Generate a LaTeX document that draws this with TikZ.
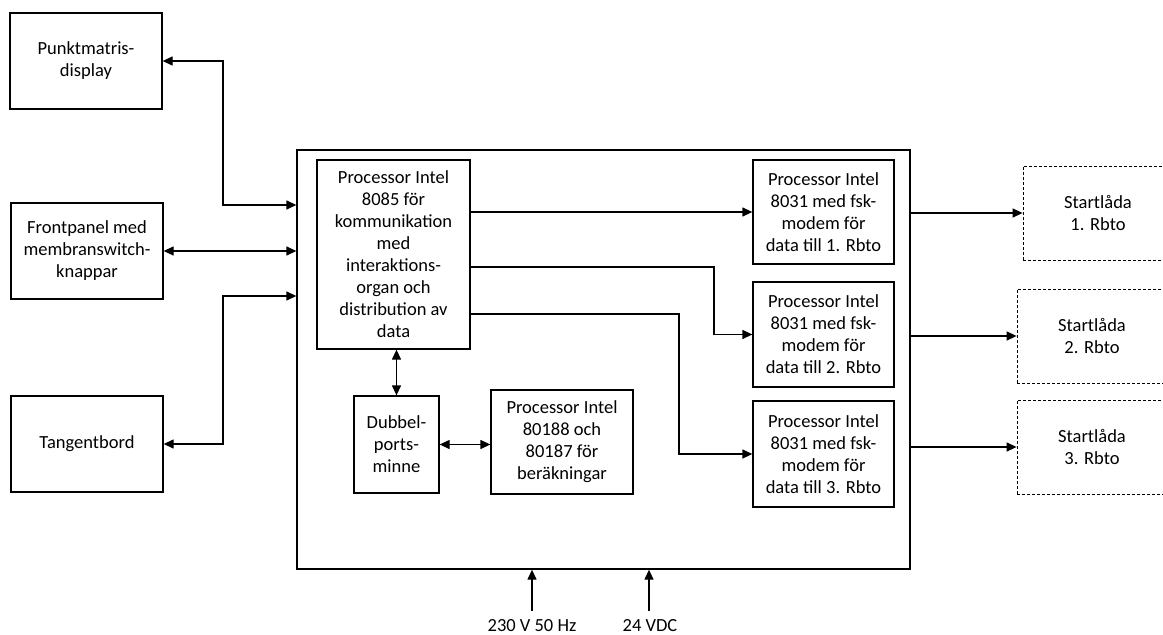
\documentclass[tikz,border=0pt]{standalone}
\usepackage{fontspec}
\setmainfont{Carlito}
\usetikzlibrary{arrows.meta}
\begin{document}
\begin{tikzpicture}[x=1pt,y=-1pt,
  font=\fontsize{18.5}{22}\selectfont,
  box/.style={draw,line width=1.3pt,align=center,inner sep=0pt},
  dbox/.style={draw,line width=0.8pt,dash pattern=on 3pt off 2pt,align=center,inner sep=0pt},
  conn/.style={line width=1.3pt},
  oneway/.style={conn,-{Triangle[length=10pt,width=9pt]}},
  twoway/.style={conn,{Triangle[length=10pt,width=9pt]}-{Triangle[length=10pt,width=9pt]}}]
\useasboundingbox (0,0) rectangle (1163,635);
% left boxes
\node[box,minimum width=152pt,minimum height=96pt] (pm) at (86,61) {Punktmatris-\\display};
\node[box,minimum width=152pt,minimum height=96pt] (fp) at (87,251) {Frontpanel med\\membranswitch-\\knappar};
\node[box,minimum width=152pt,minimum height=96pt] (tb) at (87,444) {Tangentbord};
% main box
\node[box,minimum width=613pt,minimum height=419pt] (main) at (603.5,359.5) {};
\node[box,minimum width=153pt,minimum height=189pt] (p85) at (393.5,254.5) {Processor Intel\\8085 för\\kommunikation\\med\\interaktions-\\organ och\\distribution av\\data};
\node[box,minimum width=85pt,minimum height=97pt] (dp) at (396.5,444.5) {Dubbel-\\ports-\\minne};
\node[box,minimum width=142pt,minimum height=104pt] (p188) at (562,442) {Processor Intel\\80188 och\\80187 för\\beräkningar};
\node[box,minimum width=141pt,minimum height=104pt] (c1) at (823.5,212) {Processor Intel\\8031 med fsk-\\modem för\\data till 1. Rbto};
\node[box,minimum width=141pt,minimum height=105pt] (c2) at (823.5,334.5) {Processor Intel\\8031 med fsk-\\modem för\\data till 2. Rbto};
\node[box,minimum width=141pt,minimum height=106pt] (c3) at (823.5,454) {Processor Intel\\8031 med fsk-\\modem för\\data till 3. Rbto};
% start boxes
\node[dbox,minimum width=150pt,minimum height=94pt] (s1) at (1098,213) {Startlåda\\1. Rbto};
\node[dbox,minimum width=150pt,minimum height=94pt] (s2) at (1092,336) {Startlåda\\2. Rbto};
\node[dbox,minimum width=150pt,minimum height=94pt] (s3) at (1092,447) {Startlåda\\3. Rbto};
% power labels
\node[anchor=base,inner sep=0pt] (l230) at (532,631) {230 V 50 Hz};
\node[anchor=base,inner sep=0pt] (l24) at (650,631) {24 VDC};
% connectors left
\coordinate (j1) at (223,205);
\coordinate (j3) at (223,296);
\draw[twoway] (pm.east) -| (j1) -- (main.west |- j1);
\draw[twoway] (fp.east) -- (fp.east -| main.west);
\draw[twoway] (tb.east) -| (j3) -- (main.west |- j3);
% inside
\coordinate (k2) at (714,267);
\coordinate (k3) at (679,314);
\draw[oneway] (p85.east |- c1) -- (c1.west);
\draw[oneway] (p85.east |- k2) -- (k2) |- (c2.west);
\draw[oneway] (p85.east |- k3) -- (k3) |- (c3.west);
\draw[twoway] (dp.north |- p85.south) -- (dp.north);
\draw[twoway] (dp.east) -- (dp.east -| p188.west);
% outputs
\draw[oneway] (main.east |- s1) -- (s1.west);
\draw[oneway] (main.east |- s2) -- (s2.west);
\draw[oneway] (main.east |- s3) -- (s3.west);
% power
\coordinate (pw1) at (532,611);
\coordinate (pw2) at (649,611);
\draw[oneway] (pw1) -- (pw1 |- main.south);
\draw[oneway] (pw2) -- (pw2 |- main.south);
\end{tikzpicture}
\end{document}
